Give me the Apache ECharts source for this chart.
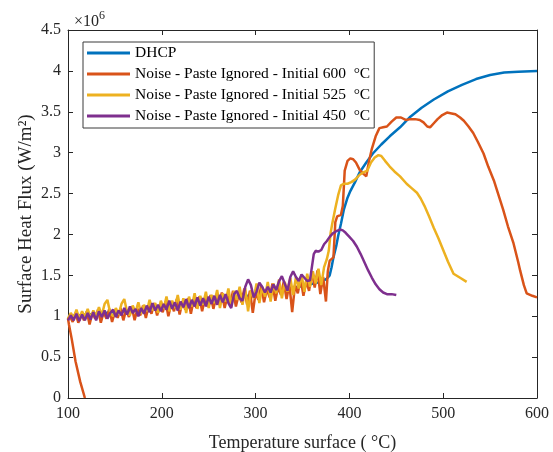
<!DOCTYPE html>
<html>
<head>
<meta charset="utf-8">
<script src="https://cdn.jsdelivr.net/npm/echarts@6/dist/echarts.min.js"></script>
<style>html,body{margin:0;padding:0;background:#fff}#c{width:553px;height:452px}</style>
</head>
<body>
<div id="c"></div>
<script>
// values in units of 1e6 W/m^2
const seriesNames = ['DHCP',
  'Noise - Paste Ignored - Initial 600  \u00b0C',
  'Noise - Paste Ignored - Initial 525  \u00b0C',
  'Noise - Paste Ignored - Initial 450  \u00b0C'];
const xTicks = [100, 200, 300, 400, 500, 600];
const yTicks = [0, 0.5, 1, 1.5, 2, 2.5, 3, 3.5, 4, 4.5];

const tempDHCP = [100,130,160,200,240,280,320,350,370,376,379,381,383,386,388,391,394,398,401,406,411,418,425,434,443,454,465,477,490,505,520,535,550,565,580,600];
const fluxDHCP = [1.00,1.03,1.06,1.10,1.16,1.23,1.30,1.37,1.42,1.46,1.50,1.60,1.72,1.86,1.98,2.13,2.30,2.45,2.53,2.64,2.76,2.88,2.99,3.10,3.20,3.31,3.44,3.55,3.65,3.75,3.83,3.90,3.95,3.98,3.99,4.00];

const temp600 = [118,113,108,104,101,100,102,105,108,111,114,117,120,123,126,129,132,135,138,141,144,147,150,153,156,159,162,165,168,171,174,177,180,183,186,189,192,195,198,201,204,207,210,213,216,219,222,225,228,231,234,237,240,243,246,249,252,255,258,261,264,267,270,273,276,279,282,285,288,291,294,297,300,303,306,309,312,315,318,321,324,327,330,333,336,339,342,345,348,351,354,357,360,363,366,369,372,375,377,379,381,383,385,387,389,391,393,395,398,401,404,407,411,415,418,421,424,428,432,436,440,445,450,455,460,465,470,475,479,483,486,490,494,499,504,509,513,518,522,527,532,537,543,548,554,559,564,569,575,580,582,586,589,595,600];
const flux600 = [0.00,0.20,0.45,0.72,0.90,0.97,
  1.00,0.93,1.04,0.92,1.03,0.95,1.06,0.90,1.04,0.97,1.08,0.92,1.05,0.97,1.09,0.93,1.06,0.98,1.10,0.95,1.08,0.99,1.12,0.95,1.09,1.01,1.13,0.98,1.13,1.03,1.16,1.01,1.13,1.05,1.18,1.00,1.16,1.06,1.21,1.02,1.18,1.08,1.22,1.03,1.20,1.10,1.24,1.06,1.22,1.12,1.26,1.09,1.24,1.14,1.29,1.10,1.25,1.16,1.31,1.12,1.27,1.17,1.34,1.14,1.31,1.04,1.29,1.20,1.37,1.17,1.33,1.23,1.40,1.19,1.36,1.26,1.42,1.21,1.39,1.05,1.38,1.28,1.46,1.25,1.43,1.31,1.54,1.35,1.56,1.27,1.48,1.18,
  1.55,1.68,1.70,1.72,2.15,2.22,2.20,2.24,2.35,2.78,2.90,2.93,2.92,2.88,2.79,2.74,2.71,2.90,3.05,3.20,3.30,3.31,3.32,3.38,3.43,3.43,3.40,3.41,3.41,3.40,3.37,3.32,3.31,3.36,3.41,3.46,3.49,3.48,3.47,3.43,3.39,3.32,3.24,3.13,2.99,2.83,2.66,2.48,2.30,2.10,1.89,1.66,1.56,1.38,1.28,1.25,1.23];

const temp525 = [100,103,106,109,112,115,118,121,124,127,130,133,136,139,142,145,148,151,154,157,160,163,166,169,172,175,178,181,184,187,190,193,196,199,202,205,208,211,214,217,220,223,226,229,232,235,238,241,244,247,250,253,256,259,262,265,268,271,274,277,280,283,286,289,292,295,298,301,304,307,310,313,316,319,322,325,328,331,334,337,340,343,346,349,352,355,358,361,364,367,370,373,376,378,380,382,385,388,391,394,398,402,406,411,415,419,423,427,431,434,438,443,448,454,461,466,472,476,480,485,490,495,500,505,511,518,525];
const flux525 = [0.97,1.04,0.98,1.08,0.97,1.06,0.99,1.09,0.98,1.07,1.00,1.11,1.01,1.15,1.20,1.04,1.00,1.10,1.02,1.15,1.21,1.05,1.01,1.13,1.05,1.17,1.03,1.14,1.06,1.20,1.07,1.16,1.04,1.19,1.09,1.24,1.06,1.19,1.10,1.26,1.08,1.22,1.04,1.24,1.12,1.28,1.09,1.25,1.14,1.30,1.10,1.26,1.16,1.32,1.10,1.28,1.18,1.34,1.12,1.31,1.20,1.36,1.14,1.34,1.06,1.32,1.22,1.40,1.16,1.36,1.24,1.42,1.18,1.40,1.28,1.45,1.22,1.42,1.30,1.47,1.26,1.48,1.34,1.51,1.30,1.52,1.36,1.55,1.40,1.58,1.38,1.60,
  1.70,1.80,2.02,2.15,2.32,2.48,2.60,2.62,2.62,2.64,2.67,2.73,2.76,2.78,2.88,2.94,2.97,2.96,2.90,2.83,2.77,2.71,2.62,2.57,2.51,2.44,2.35,2.22,2.08,1.95,1.81,1.67,1.52,1.47,1.42];

const temp450 = [100,103,106,109,112,115,118,121,124,127,130,133,136,139,142,145,148,151,154,157,160,163,166,169,172,175,178,181,184,187,190,193,196,199,202,205,208,211,214,217,220,223,226,229,232,235,238,241,244,247,250,253,256,259,262,265,268,271,274,277,280,283,286,289,292,295,298,301,304,307,310,313,316,319,322,325,328,331,334,337,340,343,346,349,352,355,358,360,362,364,367,370,373,376,379,382,386,390,393,396,400,404,408,412,416,420,424,428,432,436,440,445,450];
const flux450 = [0.95,1.01,0.95,1.03,0.94,1.02,0.95,1.04,0.96,1.05,0.95,1.06,0.99,1.07,0.97,1.04,1.08,0.99,1.07,1.01,1.10,1.02,1.12,1.04,1.09,1.00,1.10,1.03,1.13,1.05,1.16,1.07,1.14,1.06,1.15,1.08,1.19,1.09,1.17,1.07,1.18,1.11,1.21,1.10,1.20,1.12,1.23,1.13,1.22,1.12,1.24,1.15,1.25,1.14,1.26,1.17,1.27,1.16,1.10,1.27,1.31,1.22,1.19,1.36,1.45,1.38,1.23,1.30,1.41,1.36,1.29,1.36,1.29,1.39,1.32,1.43,1.49,1.40,1.31,1.48,1.55,1.48,1.43,1.51,1.47,1.43,1.44,
  1.60,1.76,1.80,1.79,1.81,1.88,1.92,1.97,2.01,2.04,2.06,2.05,2.02,1.97,1.92,1.85,1.76,1.66,1.56,1.47,1.39,1.33,1.29,1.27,1.27,1.26];

const colors = ['#0072BD', '#D95319', '#EDB120', '#7E2F8E'];
const pairs = (xs, ys) => xs.map((x, i) => [x, ys[i]]);
const allData = [pairs(tempDHCP, fluxDHCP), pairs(temp600, flux600), pairs(temp525, flux525), pairs(temp450, flux450)];

const font = 'Liberation Serif, Times New Roman, serif';
const axisCol = '#262626';
const chart = echarts.init(document.getElementById('c'), null, {renderer: 'canvas'});

const baseX = {
  type: 'value', min: 100, max: 600, interval: 100,
  axisLine: {show: true, onZero: false, lineStyle: {color: axisCol, width: 1}},
  axisTick: {show: true, inside: true, length: 5, lineStyle: {color: axisCol}},
  splitLine: {show: false}
};
const baseY = {
  type: 'value', min: 0, max: 4.5, interval: 0.5,
  axisLine: {show: true, onZero: false, lineStyle: {color: axisCol, width: 1}},
  axisTick: {show: true, inside: true, length: 5, lineStyle: {color: axisCol}},
  splitLine: {show: false}
};

chart.setOption({
  animation: false,
  backgroundColor: '#fff',
  title: {
    text: '{a|\u00d710}{b|6}',
    left: 69, top: 5,
    textStyle: {fontWeight: 'normal', rich: {
      a: {fontFamily: font, fontSize: 16, fontWeight: 'normal', color: axisCol, verticalAlign: 'bottom', lineHeight: 20},
      b: {fontFamily: font, fontSize: 12, fontWeight: 'normal', color: axisCol, verticalAlign: 'top', padding: [0,0,9,0], lineHeight: 20}
    }}
  },
  grid: {left: 68, right: 16, top: 30, bottom: 54, containLabel: false, outerBoundsMode: 'none'},
  legend: {
    orient: 'vertical', left: 83, top: 42,
    data: seriesNames,
    icon: 'rect', itemWidth: 43, itemHeight: 3, itemGap: 5,
    padding: [3, 4, 4, 4],
    borderColor: '#3a3a3a', borderWidth: 1, backgroundColor: '#fff',
    textStyle: {fontFamily: font, fontSize: 15.5, color: '#000', lineHeight: 15}
  },
  xAxis: [
    Object.assign({}, baseX, {
      position: 'bottom',
      axisLabel: {fontFamily: font, fontSize: 16, color: axisCol, margin: 8},
      name: 'Temperature surface ( \u00b0C)', nameLocation: 'middle', nameGap: 36,
      nameMoveOverlap: false,
      nameTextStyle: {fontFamily: font, fontSize: 18, color: axisCol}
    }),
    Object.assign({}, baseX, {position: 'top', axisLabel: {show: false}})
  ],
  yAxis: [
    Object.assign({}, baseY, {
      position: 'left',
      axisLabel: {fontFamily: font, fontSize: 16, color: axisCol, margin: 7},
      name: 'Surface Heat Flux (W/m\u00b2)', nameLocation: 'middle', nameGap: 32,
      nameMoveOverlap: false,
      nameTextStyle: {fontFamily: font, fontSize: 19, color: axisCol}
    }),
    Object.assign({}, baseY, {position: 'right', axisLabel: {show: false}})
  ],
  series: allData.map((d, i) => ({
    name: seriesNames[i], type: 'line', data: d,
    xAxisIndex: 0, yAxisIndex: 0,
    symbol: 'none', smooth: false,
    lineStyle: {color: colors[i], width: 2.5},
    itemStyle: {color: colors[i]},
    z: 2 + i
  }))
});
</script>
</body>
</html>
